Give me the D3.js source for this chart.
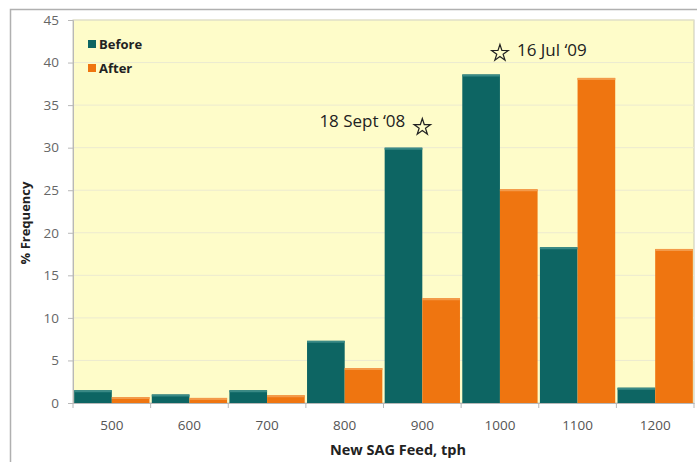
<!DOCTYPE html>
<html><head><meta charset="utf-8">
<script src="https://cdn.jsdelivr.net/npm/d3@7/dist/d3.min.js"></script>
<style>body{margin:0;background:#fff;} text{font-family:"Open Sans","Noto Sans",sans-serif;}</style>
</head><body>
<script>
const categories = ["500","600","700","800","900","1000","1100","1200"];
const seriesNames = ["Before","After"];
const before = [1.5, 1.0, 1.5, 7.3, 30.0, 38.6, 18.3, 1.8];
const after  = [0.7, 0.6, 0.9, 4.1, 12.3, 25.1, 38.2, 18.1];
const yTicks = [0,5,10,15,20,25,30,35,40,45];
const annotations = [
  {label:"18 Sept \u201808", cat:"900", value:32.4, side:"left"},
  {label:"16 Jul \u201809", cat:"1000", value:41.1, side:"right"}
];
const colors = {Before:"#0d6563", After:"#ef7510"};

const W=697,H=462;
const svg=d3.select("body").append("svg").attr("width",W).attr("height",H);
// outer frame
svg.append("rect").attr("x",10.5).attr("y",9.5).attr("width",W).attr("height",H).attr("fill","#fff").attr("stroke","#b0b0b0").attr("stroke-width",1.5);
const m={l:73,t:20,r:694,b:403};
const x=d3.scaleBand().domain(categories).range([m.l,m.r]).paddingInner(0.03).paddingOuter(0.015);
const x1=d3.scaleBand().domain(seriesNames).range([0,x.bandwidth()]);
const y=d3.scaleLinear().domain([0,45]).range([m.b,m.t]);

svg.append("rect").attr("x",m.l).attr("y",m.t).attr("width",m.r-m.l).attr("height",m.b-m.t).attr("fill","#fefcc9").attr("stroke","#c8c8b8");
svg.append("g").selectAll("line").data(yTicks.slice(1)).join("line")
  .attr("x1",m.l).attr("x2",m.r).attr("y1",d=>y(d)).attr("y2",d=>y(d)).attr("stroke","#ecead0");

const data=categories.map((c,i)=>({c,vals:[{s:"Before",v:before[i]},{s:"After",v:after[i]}]}));
const g=svg.append("g").selectAll("g").data(data).join("g").attr("transform",d=>`translate(${x(d.c)},0)`);
g.selectAll("rect").data(d=>d.vals).join("rect")
  .attr("x",d=>x1(d.s)).attr("width",x1.bandwidth())
  .attr("y",d=>y(d.v)).attr("height",d=>y(0)-y(d.v)).attr("fill",d=>colors[d.s]);
g.selectAll("line.hl").data(d=>d.vals).join("line").attr("class","hl")
  .attr("x1",d=>x1(d.s)).attr("x2",d=>x1(d.s)+x1.bandwidth())
  .attr("y1",d=>y(d.v)+1).attr("y2",d=>y(d.v)+1)
  .attr("stroke",d=>d.s==="Before"?"#3a8a86":"#f39a4a").attr("stroke-width",2);

// y axis
const ya=svg.append("g").attr("transform",`translate(${m.l},0)`).call(d3.axisLeft(y).tickValues(yTicks).tickSize(5).tickPadding(9));
ya.select(".domain").attr("stroke","#b8b8b8");
ya.selectAll(".tick line").attr("stroke","#b8b8b8");
ya.selectAll("text").attr("fill","#666").style("font-size","13.5px");
// x axis
const xa=svg.append("g").attr("transform",`translate(0,${m.b})`).call(d3.axisBottom(x).tickSize(0).tickPadding(17));
xa.select(".domain").attr("stroke","#b8b8b8");
xa.selectAll("text").attr("fill","#555").style("font-size","13.5px");
xa.selectAll(".sep").data(categories.concat(["end"])).join("line").attr("class","sep")
  .attr("x1",(d,i)=>i<categories.length?x(d)-x.step()*x.paddingInner()/2:m.r)
  .attr("x2",(d,i)=>i<categories.length?x(d)-x.step()*x.paddingInner()/2:m.r)
  .attr("y1",0).attr("y2",5).attr("stroke","#b8b8b8");

svg.append("text").attr("x",398).attr("y",455).attr("text-anchor","middle").attr("font-weight","bold").style("font-size","14.5px").attr("fill","#222").text("New SAG Feed, tph");
svg.append("text").attr("transform","translate(30,223) rotate(-90)").attr("text-anchor","middle").attr("font-weight","bold").style("font-size","13px").attr("fill","#222").text("% Frequency");

// legend
const lg=svg.append("g").selectAll("g").data(seriesNames).join("g").attr("transform",(d,i)=>`translate(88,${44+i*24})`);
lg.append("rect").attr("x",0).attr("y",-4).attr("width",8).attr("height",8).attr("fill",d=>colors[d]);
lg.append("text").attr("x",11).attr("y",4.5).attr("font-weight","bold").style("font-size","13px").attr("fill","#222").text(d=>d);

// annotations
const star=d3.symbol().type(d3.symbolStar).size(85);
annotations.forEach(a=>{
  const cx = x(a.cat)+x1.bandwidth();
  const cy = y(a.value);
  svg.append("path").attr("d",star()).attr("transform",`translate(${cx},${cy})`)
    .attr("fill","none").attr("stroke","#222").attr("stroke-width",1.2);
  svg.append("text").attr("x",a.side==="left"?cx-17:cx+17).attr("y",cy+(a.side==="left"?0:3))
    .attr("text-anchor",a.side==="left"?"end":"start").style("font-size","17px").attr("fill","#222").text(a.label);
});
</script>
</body></html>
